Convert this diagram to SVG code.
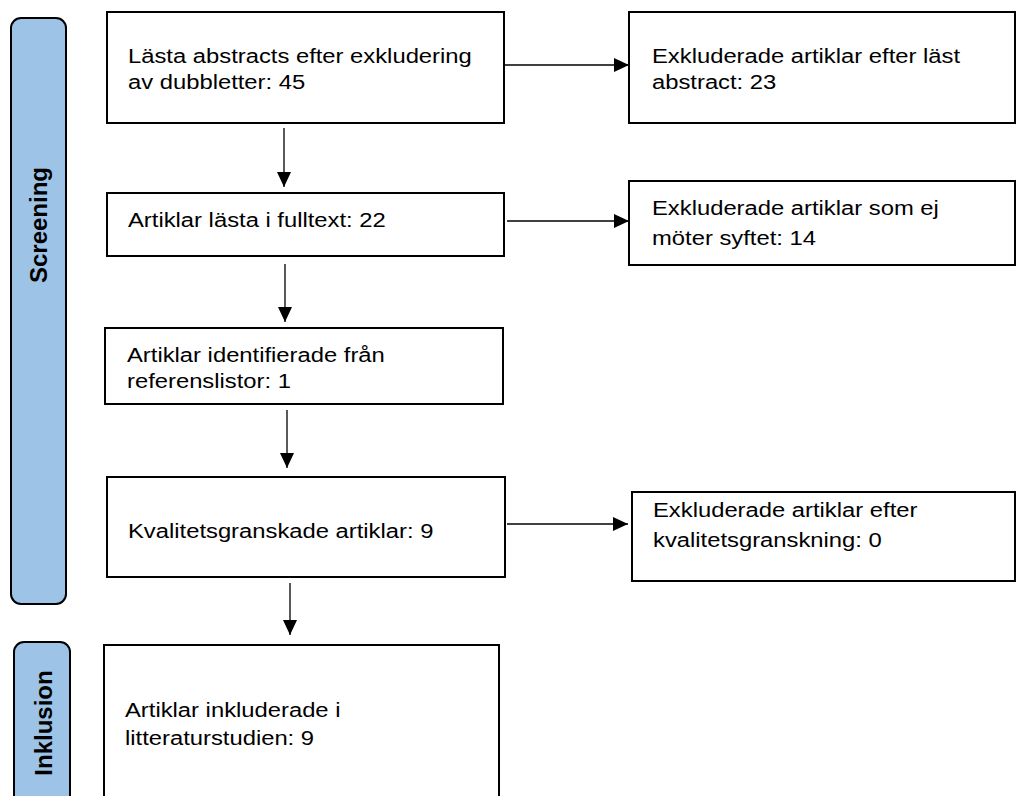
<svg xmlns="http://www.w3.org/2000/svg" width="1017" height="796" viewBox="0 0 1017 796">
<style>
.box{fill:#fff;stroke:#000;stroke-width:2}
.bar{fill:#9DC3E6;stroke:#000;stroke-width:2}
.t{font-family:"Liberation Sans",Arial,sans-serif;font-size:20px;fill:#000}
.lab{font-family:"Liberation Sans",Arial,sans-serif;font-size:24px;font-weight:bold;fill:#000}
.c{stroke:#000;stroke-width:1.3;fill:none}
</style>
<defs>
<marker id="ah" markerUnits="userSpaceOnUse" markerWidth="16" markerHeight="15" refX="15" refY="7" orient="auto">
<path d="M0,0 L15,7 L0,14 z" fill="#000"/>
</marker>
</defs>
<rect width="1017" height="796" fill="#fff"/>
<g id="screening">
<rect class="bar" x="11" y="18" width="55" height="586" rx="10"/>
<text class="lab" text-anchor="middle" transform="translate(47,225) rotate(-90)">Screening</text>
</g>
<g id="inklusion">
<rect class="bar" x="14" y="642" width="56" height="170" rx="10"/>
<text class="lab" text-anchor="middle" transform="translate(52,723) rotate(-90)">Inklusion</text>
</g>
<g id="n1">
<rect class="box" x="107" y="12" width="397" height="111"/>
<text class="t" transform="translate(128,63) scale(1.19,1)"><tspan x="0" y="0">Lästa abstracts efter exkludering</tspan><tspan x="0" y="26">av dubbletter: 45</tspan></text>
</g>
<g id="r1">
<rect class="box" x="629" y="12" width="386" height="111"/>
<text class="t" transform="translate(652,63) scale(1.19,1)"><tspan x="0" y="0">Exkluderade artiklar efter läst</tspan><tspan x="0" y="26">abstract: 23</tspan></text>
</g>
<g id="n2">
<rect class="box" x="107" y="193" width="397" height="63"/>
<text class="t" transform="translate(128,227) scale(1.19,1)">Artiklar lästa i fulltext: 22</text>
</g>
<g id="r2">
<rect class="box" x="629" y="181" width="386" height="84"/>
<text class="t" transform="translate(652,215) scale(1.19,1)"><tspan x="0" y="0">Exkluderade artiklar som ej</tspan><tspan x="0" y="30">möter syftet: 14</tspan></text>
</g>
<g id="n3">
<rect class="box" x="105" y="328" width="398" height="76"/>
<text class="t" transform="translate(127,362) scale(1.19,1)"><tspan x="0" y="0">Artiklar identifierade från</tspan><tspan x="0" y="26">referenslistor: 1</tspan></text>
</g>
<g id="n4">
<rect class="box" x="107" y="477" width="398" height="100"/>
<text class="t" transform="translate(128,538) scale(1.19,1)">Kvalitetsgranskade artiklar: 9</text>
</g>
<g id="r4">
<rect class="box" x="632" y="492" width="383" height="89"/>
<text class="t" transform="translate(653,517) scale(1.19,1)"><tspan x="0" y="0">Exkluderade artiklar efter</tspan><tspan x="0" y="30">kvalitetsgranskning: 0</tspan></text>
</g>
<g id="n5">
<rect class="box" x="104" y="645" width="395" height="170"/>
<text class="t" transform="translate(125,717) scale(1.19,1)"><tspan x="0" y="0">Artiklar inkluderade i</tspan><tspan x="0" y="28">litteraturstudien: 9</tspan></text>
</g>
<g id="connectors">
<line class="c" x1="505" y1="65" x2="629" y2="65" marker-end="url(#ah)"/>
<line class="c" x1="507" y1="221" x2="629" y2="221" marker-end="url(#ah)"/>
<line class="c" x1="507" y1="524" x2="628" y2="524" marker-end="url(#ah)"/>
<line class="c" x1="284" y1="128" x2="284" y2="187" marker-end="url(#ah)"/>
<line class="c" x1="285" y1="264" x2="285" y2="322" marker-end="url(#ah)"/>
<line class="c" x1="287" y1="410" x2="287" y2="468" marker-end="url(#ah)"/>
<line class="c" x1="290" y1="583" x2="290" y2="635" marker-end="url(#ah)"/>
</g>
</svg>
